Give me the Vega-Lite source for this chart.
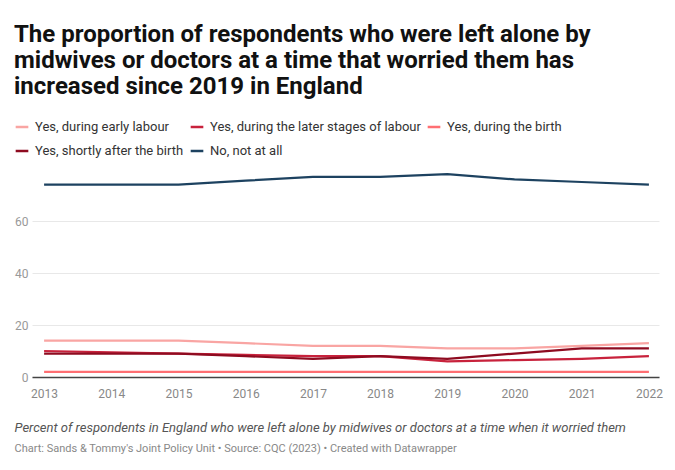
{
  "$schema": "https://vega.github.io/schema/vega-lite/v6.json",
  "background": "white",
  "padding": {"left": 14, "top": 23, "right": 15, "bottom": 8},
  "title": {
    "text": ["The proportion of respondents who were left alone by", "midwives or doctors at a time that worried them has", "increased since 2019 in England"],
    "anchor": "start",
    "frame": "bounds",
    "font": "Roboto",
    "fontSize": 24,
    "fontWeight": "bold",
    "lineHeight": 26,
    "color": "#111111",
    "offset": 20
  },
  "vconcat": [
    {
      "width": 627,
      "height": 208,
      "title": {
        "text": "Percent of respondents in England who were left alone by midwives or doctors at a time when it worried them",
        "subtitle": "Chart: Sands & Tommy's Joint Policy Unit • Source: CQC (2023) • Created with Datawrapper",
        "orient": "bottom",
        "anchor": "start",
        "frame": "bounds",
        "font": "Roboto",
        "fontSize": 13,
        "fontStyle": "italic",
        "fontWeight": "normal",
        "color": "#555555",
        "subtitleFont": "Roboto",
        "subtitleFontSize": 11,
        "subtitleColor": "#888888",
        "subtitlePadding": 8,
        "offset": 23
      },
      "data": {
        "values": [
          {"year": 2013, "series": "Yes, during early labour", "value": 14},
          {"year": 2014, "series": "Yes, during early labour", "value": 14},
          {"year": 2015, "series": "Yes, during early labour", "value": 14},
          {"year": 2016, "series": "Yes, during early labour", "value": 13},
          {"year": 2017, "series": "Yes, during early labour", "value": 12},
          {"year": 2018, "series": "Yes, during early labour", "value": 12},
          {"year": 2019, "series": "Yes, during early labour", "value": 11},
          {"year": 2020, "series": "Yes, during early labour", "value": 11},
          {"year": 2021, "series": "Yes, during early labour", "value": 12},
          {"year": 2022, "series": "Yes, during early labour", "value": 13},
          {"year": 2013, "series": "Yes, during the later stages of labour", "value": 10},
          {"year": 2014, "series": "Yes, during the later stages of labour", "value": 9.5},
          {"year": 2015, "series": "Yes, during the later stages of labour", "value": 9},
          {"year": 2016, "series": "Yes, during the later stages of labour", "value": 8.5},
          {"year": 2017, "series": "Yes, during the later stages of labour", "value": 8},
          {"year": 2018, "series": "Yes, during the later stages of labour", "value": 8},
          {"year": 2019, "series": "Yes, during the later stages of labour", "value": 6},
          {"year": 2020, "series": "Yes, during the later stages of labour", "value": 6.5},
          {"year": 2021, "series": "Yes, during the later stages of labour", "value": 7},
          {"year": 2022, "series": "Yes, during the later stages of labour", "value": 8},
          {"year": 2013, "series": "Yes, during the birth", "value": 2},
          {"year": 2014, "series": "Yes, during the birth", "value": 2},
          {"year": 2015, "series": "Yes, during the birth", "value": 2},
          {"year": 2016, "series": "Yes, during the birth", "value": 2},
          {"year": 2017, "series": "Yes, during the birth", "value": 2},
          {"year": 2018, "series": "Yes, during the birth", "value": 2},
          {"year": 2019, "series": "Yes, during the birth", "value": 2},
          {"year": 2020, "series": "Yes, during the birth", "value": 2},
          {"year": 2021, "series": "Yes, during the birth", "value": 2},
          {"year": 2022, "series": "Yes, during the birth", "value": 2},
          {"year": 2013, "series": "Yes, shortly after the birth", "value": 9},
          {"year": 2014, "series": "Yes, shortly after the birth", "value": 9},
          {"year": 2015, "series": "Yes, shortly after the birth", "value": 9},
          {"year": 2016, "series": "Yes, shortly after the birth", "value": 8},
          {"year": 2017, "series": "Yes, shortly after the birth", "value": 7},
          {"year": 2018, "series": "Yes, shortly after the birth", "value": 8},
          {"year": 2019, "series": "Yes, shortly after the birth", "value": 7},
          {"year": 2020, "series": "Yes, shortly after the birth", "value": 9},
          {"year": 2021, "series": "Yes, shortly after the birth", "value": 11},
          {"year": 2022, "series": "Yes, shortly after the birth", "value": 11},
          {"year": 2013, "series": "No, not at all", "value": 74},
          {"year": 2014, "series": "No, not at all", "value": 74},
          {"year": 2015, "series": "No, not at all", "value": 74},
          {"year": 2016, "series": "No, not at all", "value": 75.5},
          {"year": 2017, "series": "No, not at all", "value": 77},
          {"year": 2018, "series": "No, not at all", "value": 77},
          {"year": 2019, "series": "No, not at all", "value": 78},
          {"year": 2020, "series": "No, not at all", "value": 76},
          {"year": 2021, "series": "No, not at all", "value": 75},
          {"year": 2022, "series": "No, not at all", "value": 74}
        ]
      },
      "mark": {"type": "line", "strokeWidth": 2.2},
      "encoding": {
        "x": {
          "field": "year",
          "type": "quantitative",
          "scale": {"domain": [2012.82, 2022.15], "nice": false, "zero": false},
          "axis": {
            "title": null,
            "values": [2013, 2014, 2015, 2016, 2017, 2018, 2019, 2020, 2021, 2022],
            "format": "d",
            "grid": false,
            "ticks": false,
            "domainColor": "#444444",
            "domainWidth": 1.5,
            "labelFont": "Roboto",
            "labelFontSize": 12,
            "labelColor": "#888888",
            "labelPadding": 11
          }
        },
        "y": {
          "field": "value",
          "type": "quantitative",
          "scale": {"domain": [0, 80], "nice": false},
          "axis": {
            "title": null,
            "values": [0, 20, 40, 60],
            "domain": false,
            "ticks": false,
            "gridColor": "#e8e8e8",
            "gridWidth": 1,
            "labelFont": "Roboto",
            "labelFontSize": 12,
            "labelColor": "#999999",
            "labelPadding": 4
          }
        },
        "color": {
          "field": "series",
          "type": "nominal",
          "scale": {
            "domain": ["Yes, during early labour", "Yes, during the later stages of labour", "Yes, during the birth", "Yes, shortly after the birth", "No, not at all"],
            "range": ["#f9a5a3", "#c8223c", "#ff6f73", "#8e0b20", "#1d4260"]
          },
          "legend": {
            "title": null,
            "orient": "none",
            "legendX": -18,
            "legendY": -50,
            "direction": "horizontal",
            "columns": 3,
            "gridAlign": "none",
            "symbolType": "stroke",
            "symbolSize": 160,
            "symbolStrokeWidth": 2.5,
            "labelFont": "Roboto",
            "labelFontSize": 13,
            "labelColor": "#333333",
            "labelOffset": 5,
            "labelLimit": 300,
            "columnPadding": 1,
            "rowPadding": 9
          }
        }
      }
    }
  ],
  "config": {
    "view": {"stroke": null}
  }
}
